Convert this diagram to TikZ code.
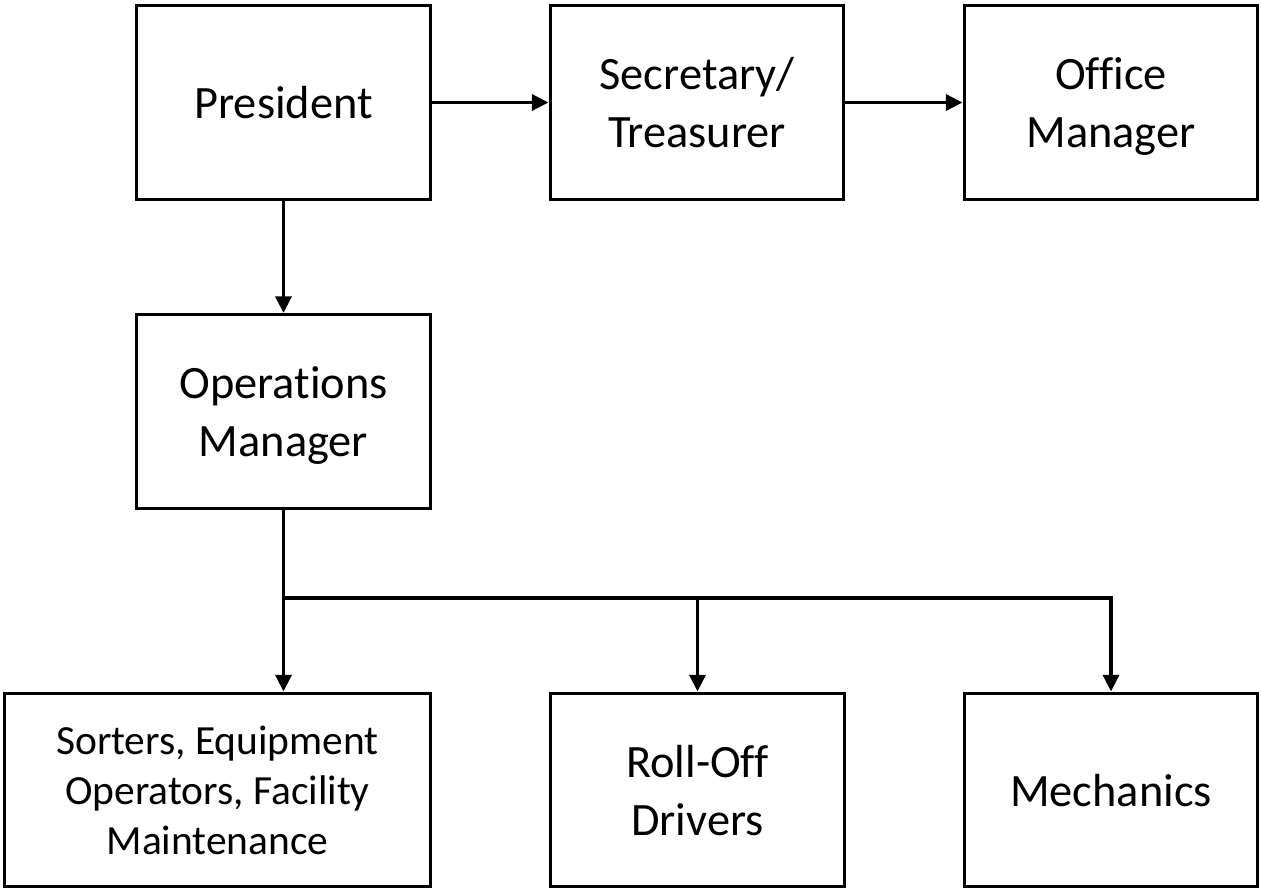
\documentclass[tikz,border=0pt]{standalone}
\usepackage{fontspec}
\setmainfont{Carlito}[RawFeature={-liga}]
\usetikzlibrary{arrows.meta}

\tikzset{
  post/.style={draw, line width=1.7pt, minimum width=5.88cm, minimum height=3.88cm,
    align=center, font=\fontsize{26.4}{32.9}\selectfont, inner sep=0pt, text depth=0pt},
  link/.style={line width=2.2pt},
  arr/.style={link, -{Triangle[length=9.5pt,width=9pt]}}
}

\begin{document}
\begin{tikzpicture}[x=0.02cm, y=-0.02cm]
\useasboundingbox (0,0) rectangle (1261,892);

% top row
\node[post] (pres) at (283.5,102.5) {President};
\node[post] (sec) at (697,102.5) {Secretary/\\Treasurer};
\node[post] (off) at (1111,102.5) {Office\\Manager};

\node[post] (ops) at (283.5,411.5) {Operations\\Manager};

% bottom row
\node[post, minimum width=8.52cm, font=\fontsize{23.6}{28.4}\selectfont] (sort) at (217.5,790) {Sorters, Equipment\\Operators, Facility\\Maintenance};
\node[post] (roll) at (697.5,790) {Roll-Off\\Drivers};
\node[post] (mech) at (1111,790) {Mechanics};

\draw[arr] (pres) -- (sec);
\draw[arr] (sec) -- (off);
\draw[arr] (pres) -- (ops);

\coordinate (split) at (283.5,598);
\coordinate (bar) at (1111,598);
\draw[arr] (ops) -- (split) -- (bar) -- (mech);
\draw[arr] (split) -- (split |- sort.north);
\draw[arr] (roll |- split) -- (roll);

\end{tikzpicture}
\end{document}
